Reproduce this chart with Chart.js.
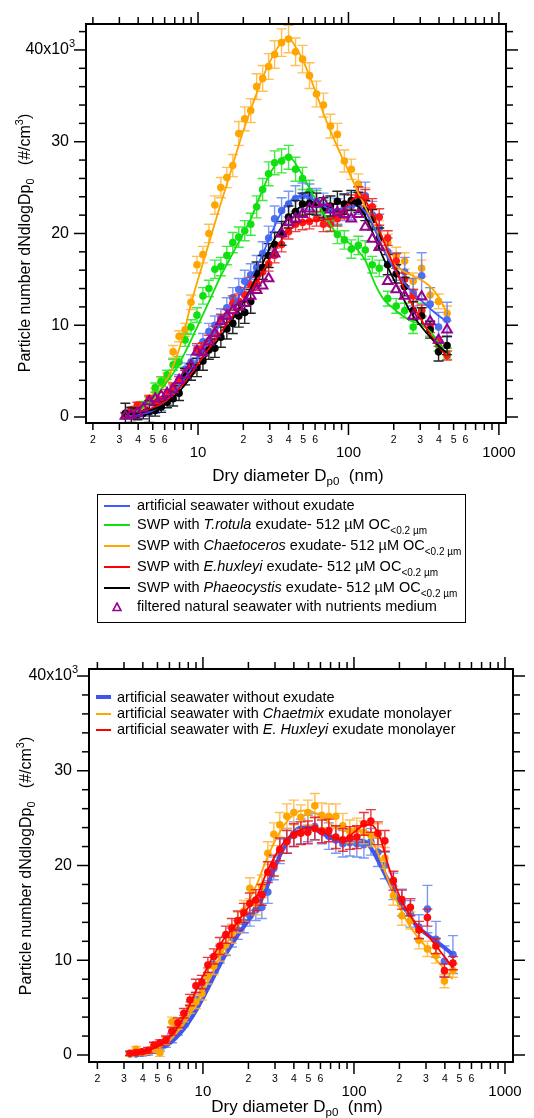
<!DOCTYPE html>
<html>
<head>
<meta charset="utf-8">
<title>Particle number size distributions</title>
<script src="https://cdn.jsdelivr.net/npm/chart.js"></script>
<style>
  html, body { margin: 0; padding: 0; background: #fff; }
  body { font-family: 'Liberation Sans', Arial, sans-serif; color: #000; }
  .page { position: relative; width: 534px; height: 1118px; overflow: hidden; }
  canvas { position: absolute; left: 0; }
  .title { position: absolute; font-size: 17px; line-height: 20px; white-space: nowrap; transform: translate(-50%, -50%); }
  .title.rot { font-size: 16px; transform: translate(-50%, -50%) rotate(-90deg); }
  sub, sup { font-size: 0.68em; line-height: 0; }
  sub { vertical-align: -0.35em; }
  sup { vertical-align: 0.6em; }
  .legend-box { position: absolute; left: 97px; top: 494px; width: 369px; height: 129px; border: 1.5px solid #000; box-sizing: border-box; }
  .lg { position: absolute; font-size: 14.5px; line-height: 17px; white-space: nowrap; }
  .lg sub { font-size: 10px; vertical-align: -5px; }
  .sw { position: absolute; height: 0; border-top-style: solid; }
</style>
</head>
<body>
<div class="page">
  <canvas id="topChart" width="534" height="500" style="top:0"></canvas>
  <canvas id="bottomChart" width="534" height="478" style="top:640px"></canvas>

  <div class="title rot" style="left:25px; top:243px">Particle number dNdlogDp<sub>0</sub>&nbsp;&nbsp; (#/cm<sup>3</sup>)</div>
  <div class="title" style="left:298px; top:476px">Dry diameter D<sub>p0</sub>&nbsp; (nm)</div>

  <div class="legend-box"></div>
  <div class="sw" style="left:104px; top:505px; width:26px; border-top-width:2px; border-color:#3c5cff"></div>
  <div class="lg" style="left:137px; top:497px">artificial seawater without exudate</div>
  <div class="sw" style="left:104px; top:524px; width:26px; border-top-width:2px; border-color:#10e010"></div>
  <div class="lg" style="left:137px; top:516px">SWP with <i>T.rotula</i> exudate- 512 µM OC<sub>&lt;0.2 µm</sub></div>
  <div class="sw" style="left:104px; top:545px; width:26px; border-top-width:2px; border-color:#ffa500"></div>
  <div class="lg" style="left:137px; top:537px">SWP with <i>Chaetoceros</i> exudate- 512 µM OC<sub>&lt;0.2 µm</sub></div>
  <div class="sw" style="left:104px; top:566px; width:26px; border-top-width:2px; border-color:#ff0000"></div>
  <div class="lg" style="left:137px; top:558px">SWP with <i>E.huxleyi</i> exudate- 512 µM OC<sub>&lt;0.2 µm</sub></div>
  <div class="sw" style="left:104px; top:587px; width:26px; border-top-width:2px; border-color:#000"></div>
  <div class="lg" style="left:137px; top:579px">SWP with <i>Phaeocystis</i> exudate- 512 µM OC<sub>&lt;0.2 µm</sub></div>
  <svg style="position:absolute; left:112px; top:602px" width="10" height="10"><polygon points="5,1 9,8.5 1,8.5" fill="none" stroke="#99008f" stroke-width="1.6"/></svg>
  <div class="lg" style="left:137px; top:598px">filtered natural seawater with nutrients medium</div>

  <div class="sw" style="left:96px; top:695px; width:15px; border-top-width:4px; border-color:#3f55ee"></div>
  <div class="lg" style="left:117px; top:689px">artificial seawater without exudate</div>
  <div class="sw" style="left:96px; top:713px; width:15px; border-top-width:2px; border-color:#ffa500"></div>
  <div class="lg" style="left:117px; top:705px">artificial seawater with <i>Chaetmix</i> exudate monolayer</div>
  <div class="sw" style="left:96px; top:729px; width:15px; border-top-width:2px; border-color:#ff0000"></div>
  <div class="lg" style="left:117px; top:721px">artificial seawater with <i>E. Huxleyi</i> exudate monolayer</div>

  <div class="title rot" style="left:26px; top:866px">Particle number dNdlogDp<sub>0</sub>&nbsp;&nbsp; (#/cm<sup>3</sup>)</div>
  <div class="title" style="left:297px; top:1107px">Dry diameter D<sub>p0</sub>&nbsp; (nm)</div>
</div>

<script>
// dry diameters of the measured channels (nm)
const diam = [3.29, 3.60, 3.95, 4.33, 4.74, 5.19, 5.69, 6.23, 6.83, 7.48, 8.20, 8.98, 9.84, 10.78, 11.81,
  12.94, 14.18, 15.54, 17.03, 18.66, 20.44, 22.40, 24.54, 26.89, 29.47, 32.29, 35.93, 39.98, 44.48, 49.50,
  55.07, 61.28, 68.19, 75.87, 84.42, 93.94, 104.5, 116.3, 129.4, 144.0, 160.2, 182.4, 207.7, 236.4, 269.2,
  306.5, 348.9, 397.2, 452.3];
// diameters where the fitted curves are given (nm)
const fitDiam = [3.3, 4, 5, 6, 7, 8, 9, 10, 12, 14, 16, 18, 20, 23, 26, 30, 35, 40, 45, 50, 60, 70, 80, 90,
  100, 115, 130, 150, 170, 200, 230, 260, 300, 350, 400, 450];

// axis ticks
const yTicks = [0, 10, 20, 30, 40];
const xDecades = [1, 10, 100, 1000];
const logSteps = [1, 2, 3, 4, 5, 6, 7, 8, 9];
const xMinorLabels = [2, 3, 4, 5, 6];

// ---- upper panel: seawater proxies with exudates (x10^3 #/cm3) ----
const orangeTop = [0.2, 0.4, 0.7, 1.2, 2.0, 2.7, 3.8, 4.3, 7.1, 8.8, 9.5, 12.5, 16.6, 17.7, 20.0, 23.1, 25.0, 26.1,
  27.4, 30.9, 32.5, 33.4, 36.0, 36.9, 38.2, 39.5, 40.8, 41.2, 39.8, 39.0, 37.2, 35.2, 34.0, 31.7, 30.8, 27.9,
  27.0, 25.4, 24.0, 22.0, 20.4, 19.0, 17.6, 17.0, 14.8, 16.2, 13.3, 12.6, 11.3];
const orangeTopErr = [0.3, 0.3, 0.3, 0.3, 0.4, 0.4, 0.5, 0.5, 0.7, 0.6, 0.7, 0.8, 0.9, 0.9, 1.0, 1.0, 1.1, 1.1,
  1.2, 1.3, 1.3, 1.3, 1.4, 1.4, 1.4, 1.5, 1.5, 1.5, 1.5, 1.5, 1.4, 1.4, 1.3, 1.3, 1.2, 1.2, 1.1, 1.1, 1.0, 1.0,
  1.0, 0.9, 0.9, 0.9, 0.9, 0.9, 0.8, 0.8, 0.8];
const greenTop = [0.15, 0.5, 0.9, 1.3, 1.8, 3.2, 3.9, 4.6, 5.7, 6.0, 8.4, 9.8, 11.1, 13.2, 14.0, 16.1, 16.4, 17.6,
  19.0, 19.6, 20.3, 21.0, 22.9, 24.8, 26.5, 27.7, 27.9, 28.3, 27.0, 26.0, 24.6, 23.5, 22.5, 21.4, 19.9, 19.3,
  18.3, 18.7, 18.2, 16.6, 16.2, 12.9, 12.1, 11.6, 9.8, 11.6, 9.5, 7.8, 6.9];
const greenTopErr = [0.3, 0.3, 0.3, 0.4, 0.4, 0.5, 0.5, 0.5, 0.6, 0.6, 0.7, 0.8, 0.8, 0.9, 0.9, 1.0, 1.0, 1.0,
  1.1, 1.1, 1.1, 1.2, 1.2, 1.2, 1.3, 1.3, 1.3, 1.3, 1.3, 1.2, 1.2, 1.2, 1.1, 1.1, 1.0, 1.0, 1.0, 1.0, 1.0, 0.9,
  0.9, 0.8, 0.8, 0.8, 0.7, 0.8, 0.7, 0.6, 0.6];
const blueTop = [0.1, 0.15, 0.2, 0.4, 0.5, 0.8, 1.2, 1.9, 2.9, 4.0, 5.2, 6.0, 7.0, 8.2, 9.3, 10.0, 10.8, 11.9,
  13.0, 13.9, 14.8, 15.5, 16.3, 17.8, 19.5, 21.6, 22.5, 23.2, 23.8, 24.1, 24.0, 23.5, 23.0, 22.6, 22.4, 22.8,
  23.0, 23.6, 24.1, 22.0, 20.6, 18.0, 16.4, 15.8, 13.6, 15.4, 12.3, 9.8, 10.6];
const blueTopErr = [0.3, 0.3, 0.3, 0.3, 0.4, 0.4, 0.5, 0.5, 0.6, 0.6, 0.7, 0.8, 0.8, 0.9, 0.9, 1.0, 1.0, 1.1,
  1.1, 1.2, 1.2, 1.2, 1.3, 1.3, 1.3, 1.4, 1.4, 1.4, 1.4, 1.4, 1.4, 1.4, 1.4, 1.4, 1.4, 1.4, 1.5, 1.5, 1.5, 1.5,
  1.5, 1.5, 1.5, 1.6, 1.5, 2.5, 1.8, 1.6, 1.9];
const redTop = [0.2, 0.8, 1.3, 0.9, 2.0, 1.6, 1.9, 2.6, 3.3, 4.0, 4.6, 5.3, 7.4, 7.5, 8.3, 9.2, 10.5, 11.0, 12.4,
  12.6, 13.3, 14.4, 14.6, 15.8, 16.7, 17.6, 18.8, 20.2, 21.0, 21.2, 21.3, 21.6, 21.0, 21.0, 21.6, 22.4, 23.4,
  24.2, 23.9, 22.9, 21.8, 19.5, 17.0, 15.0, 13.2, 11.6, 9.8, 8.2, 6.7];
const redTopErr = [0.3, 0.3, 0.3, 0.3, 0.3, 0.3, 0.3, 0.4, 0.4, 0.4, 0.5, 0.5, 0.6, 0.6, 0.6, 0.7, 0.7, 0.7, 0.8,
  0.8, 0.8, 0.8, 0.8, 0.8, 0.8, 0.8, 0.8, 0.8, 0.8, 0.8, 0.8, 0.8, 0.8, 0.8, 0.8, 0.8, 0.8, 0.9, 0.9, 0.9, 0.9,
  0.8, 0.8, 0.7, 0.7, 0.6, 0.6, 0.5, 0.5];
const blackTop = [0.4, 0.2, 0.3, 0.4, 0.6, 0.7, 1.1, 1.6, 2.0, 2.6, 4.4, 4.9, 5.4, 6.1, 7.3, 7.5, 8.7, 9.6, 10.2,
  11.0, 11.4, 12.6, 15.6, 16.3, 17.6, 18.8, 20.0, 21.8, 22.4, 23.2, 23.3, 23.2, 22.8, 23.0, 23.5, 23.2, 23.6,
  23.4, 22.5, 21.5, 19.5, 16.6, 15.6, 14.2, 11.6, 11.0, 9.5, 7.1, 7.8];
const blackTopErr = [1.1, 0.8, 0.6, 0.6, 1.2, 0.6, 0.6, 0.6, 0.8, 0.8, 0.9, 0.9, 1.0, 1.0, 1.0, 1.0, 1.1, 1.1,
  1.1, 1.2, 1.2, 1.3, 1.3, 1.3, 1.3, 1.3, 1.3, 1.2, 1.2, 1.2, 1.2, 1.2, 1.1, 1.1, 1.1, 1.1, 1.1, 1.1, 1.1, 1.1,
  1.1, 1.1, 1.0, 1.0, 1.0, 0.9, 0.9, 1.0, 1.0];
const purpleTop = [0.1, 0.2, 0.4, 0.9, 1.7, 2.0, 2.3, 2.6, 3.0, 4.0, 4.6, 5.6, 7.1, 7.0, 8.2, 9.1, 10.4, 11.0,
  11.6, 12.0, 12.4, 13.2, 13.8, 14.3, 15.1, 17.8, 20.0, 21.2, 21.6, 22.1, 22.7, 23.2, 23.4, 22.6, 22.3, 22.1,
  21.6, 22.1, 20.7, 19.4, 18.5, 14.8, 13.9, 13.2, 11.0, 13.1, 10.4, 8.4, 9.5];

const orangeTopFit = [0.2, 0.6, 1.9, 3.6, 6.0, 9.0, 12.4, 15.0, 19.3, 23.0, 26.0, 28.8, 31.2, 34.0, 36.4, 38.7,
  40.6, 41.3, 40.2, 38.8, 35.6, 32.6, 30.3, 28.4, 26.8, 24.6, 22.8, 20.5, 18.5, 16.7, 15.9, 15.5, 15.0, 14.2,
  13.0, 11.4];
const greenTopFit = [0.1, 0.7, 2.0, 3.5, 5.0, 6.7, 8.4, 10.0, 12.8, 15.2, 17.0, 18.6, 20.0, 22.0, 24.2, 26.5,
  28.0, 28.4, 27.5, 26.2, 23.8, 21.9, 20.4, 19.6, 19.0, 18.2, 17.0, 14.5, 12.9, 11.8, 11.0, 10.5, 10.1, 9.3,
  8.0, 6.8];
const blueTopFit = [0.05, 0.25, 0.7, 1.6, 2.8, 4.0, 5.2, 6.4, 8.4, 10.0, 11.4, 12.7, 13.9, 15.5, 17.2, 19.6,
  22.0, 23.4, 24.0, 24.1, 23.6, 22.9, 22.6, 22.7, 22.9, 23.0, 22.3, 20.4, 18.3, 16.2, 14.8, 13.8, 12.8, 11.8,
  11.0, 10.4];
const redTopFit = [0.2, 0.5, 1.0, 1.7, 2.6, 3.6, 4.7, 5.8, 7.6, 9.1, 10.4, 11.6, 12.6, 14.0, 15.4, 17.2, 19.0,
  20.3, 21.0, 21.3, 21.4, 21.5, 21.7, 22.4, 23.3, 24.0, 23.5, 21.5, 19.3, 16.5, 14.3, 12.5, 10.8, 9.0, 7.7, 6.6];
const blackTopFit = [0.3, 0.4, 0.8, 1.4, 2.3, 3.3, 4.4, 5.4, 7.2, 8.7, 10.0, 11.3, 12.5, 14.4, 16.2, 18.4, 20.4,
  21.8, 22.6, 23.0, 23.1, 23.1, 23.2, 23.4, 23.4, 23.0, 21.8, 19.5, 17.4, 15.0, 13.0, 11.4, 10.0, 8.7, 7.7, 7.0];

// ---- lower panel: artificial seawater with exudate monolayers (x10^3 #/cm3) ----
const blueBot = [0.1, 0.1, 0.2, 0.3, 0.5, 0.8, 1.2, 1.8, 2.6, 3.6, 4.7, 5.9, 7.2, 8.4, 9.6, 10.6, 11.5, 12.4,
  13.2, 14.0, 14.7, 15.3, 15.6, 17.2, 19.7, 21.5, 22.6, 23.3, 23.6, 23.9, 24.1, 23.7, 23.1, 22.7, 22.3, 22.4,
  22.3, 22.2, 22.5, 21.4, 20.0, 17.8, 16.1, 14.9, 13.5, 15.4, 12.2, 9.9, 10.6];
const blueBotErr = [0.2, 0.2, 0.3, 0.3, 0.3, 0.4, 0.4, 0.5, 0.5, 0.6, 0.6, 0.7, 0.8, 0.8, 0.9, 0.9, 1.0, 1.0,
  1.0, 1.1, 1.1, 1.1, 1.2, 1.2, 1.2, 1.3, 1.3, 1.3, 1.3, 1.4, 1.4, 1.4, 1.4, 1.4, 1.4, 1.4, 1.4, 1.4, 1.4, 1.5,
  1.4, 1.4, 1.4, 1.4, 1.3, 2.5, 1.9, 1.6, 2.0];
const orangeBot = [0.15, 0.6, 0.3, 0.4, 0.6, 0.25, 1.5, 3.5, 3.2, 4.0, 5.0, 5.6, 6.5, 8.3, 9.4, 10.8, 11.6, 12.8,
  14.0, 15.2, 17.6, 16.0, 17.8, 21.3, 23.3, 24.3, 25.2, 25.6, 25.1, 25.6, 26.3, 25.3, 25.2, 25.2, 24.2, 23.6,
  23.8, 23.5, 23.2, 23.2, 20.8, 16.8, 14.7, 14.2, 12.1, 11.2, 10.5, 7.8, 8.9];
const orangeBotErr = [0.3, 0.3, 0.3, 0.3, 0.3, 0.4, 0.4, 0.5, 0.5, 0.5, 0.6, 0.7, 0.7, 0.8, 0.9, 0.9, 1.0, 1.0,
  1.1, 1.1, 1.1, 1.2, 1.2, 1.2, 1.2, 1.3, 1.3, 1.3, 1.3, 1.3, 1.3, 1.3, 1.3, 1.3, 1.3, 1.2, 1.2, 1.2, 1.2, 1.2,
  1.1, 1.0, 1.0, 0.9, 0.9, 0.8, 0.8, 0.7, 0.7];
const redBot = [0.18, 0.25, 0.35, 0.5, 1.05, 1.3, 1.6, 2.5, 3.4, 4.4, 5.8, 7.3, 7.7, 9.5, 10.4, 11.5, 12.7, 13.4,
  14.2, 15.0, 16.0, 16.35, 16.9, 19.3, 20.0, 21.7, 22.5, 23.2, 23.4, 23.5, 23.9, 23.6, 23.7, 23.0, 22.7, 22.9,
  23.0, 24.4, 24.7, 23.4, 22.6, 18.4, 16.4, 15.6, 13.2, 14.5, 11.5, 8.9, 9.7];
const redBotErr = [0.2, 0.2, 0.2, 0.3, 0.3, 0.3, 0.4, 0.4, 0.5, 0.5, 0.6, 0.7, 0.7, 0.8, 0.8, 0.9, 0.9, 1.0, 1.0,
  1.0, 1.1, 1.1, 1.1, 1.1, 1.1, 1.2, 1.2, 1.2, 1.2, 1.2, 1.2, 1.2, 1.2, 1.2, 1.2, 1.2, 1.2, 1.2, 1.2, 1.2, 1.1,
  1.0, 1.0, 0.9, 0.9, 0.9, 0.8, 0.7, 0.7];

const blueBotFit = [0.05, 0.2, 0.5, 1.2, 2.2, 3.4, 4.7, 6.0, 8.5, 10.5, 12.0, 13.2, 14.2, 15.6, 17.4, 19.9, 22.1,
  23.5, 24.0, 24.0, 23.5, 22.9, 22.6, 22.5, 22.6, 22.6, 21.8, 20.0, 18.3, 16.2, 14.9, 13.6, 12.8, 12.0, 11.3, 10.6];
const orangeBotFit = [0.1, 0.3, 0.7, 1.5, 2.7, 4.0, 5.4, 6.8, 9.3, 11.4, 13.2, 14.8, 16.2, 18.2, 20.4, 22.6,
  24.4, 25.4, 25.8, 25.8, 25.2, 24.4, 23.8, 23.6, 23.7, 23.6, 22.8, 20.6, 18.3, 15.6, 13.8, 12.6, 11.4, 10.1,
  9.0, 8.0];
const redBotFit = [0.15, 0.35, 0.9, 1.9, 3.2, 5.0, 6.8, 8.3, 10.8, 12.4, 13.5, 14.6, 15.6, 16.9, 19.0, 21.0,
  22.6, 23.4, 23.8, 24.0, 23.7, 23.1, 22.8, 22.9, 23.5, 24.2, 24.3, 22.8, 19.8, 16.8, 15.0, 13.7, 12.8, 11.5,
  10.3, 9.2];

const FONT = "'Liberation Sans', Arial, sans-serif";

function pairs(xs, ys) {
  return xs.map((x, i) => ({ x: x, y: ys[i] }));
}

function pointSet(label, ys, errs, color, errColor) {
  return {
    label: label, data: pairs(diam, ys), errors: errs, errorColor: errColor,
    showLine: false, pointRadius: 3.8, pointBorderWidth: 0,
    pointBackgroundColor: color, pointBorderColor: color
  };
}

function fitSet(label, ys, color, width) {
  return {
    label: label, data: pairs(fitDiam, ys), showLine: true, pointRadius: 0,
    borderColor: color, borderWidth: width, cubicInterpolationMode: 'monotone', fill: false
  };
}

// vertical error bars with caps, drawn just under each point set
const errorBars = {
  id: 'errorBars',
  beforeDatasetDraw(chart, args) {
    const ds = chart.data.datasets[args.index];
    if (!ds.errors) return;
    const ctx = chart.ctx, a = chart.chartArea, ys = chart.scales.y;
    ctx.save();
    ctx.beginPath();
    ctx.rect(a.left, a.top, a.right - a.left, a.bottom - a.top);
    ctx.clip();
    ctx.strokeStyle = ds.errorColor;
    ctx.lineWidth = 1.4;
    args.meta.data.forEach((pt, i) => {
      const v = ds.data[i].y, e = ds.errors[i];
      const y1 = ys.getPixelForValue(v + e), y2 = ys.getPixelForValue(v - e);
      ctx.beginPath();
      ctx.moveTo(pt.x, y1); ctx.lineTo(pt.x, y2);
      ctx.moveTo(pt.x - 5, y1); ctx.lineTo(pt.x + 5, y1);
      ctx.moveTo(pt.x - 5, y2); ctx.lineTo(pt.x + 5, y2);
      ctx.stroke();
    });
    ctx.restore();
  }
};

// Igor-like box axes: ticks outside on all four sides
const igorAxes = {
  id: 'igorAxes',
  afterDraw(chart) {
    const ctx = chart.ctx, a = chart.chartArea, xs = chart.scales.x, ys = chart.scales.y;
    const seg = (x1, y1, x2, y2) => { ctx.beginPath(); ctx.moveTo(x1, y1); ctx.lineTo(x2, y2); ctx.stroke(); };
    ctx.save();
    ctx.strokeStyle = '#000';
    ctx.fillStyle = '#000';
    ctx.lineWidth = 1.5;
    ctx.textAlign = 'center';
    ctx.textBaseline = 'middle';
    xDecades.forEach(dec => logSteps.forEach(m => {
      const v = dec * m;
      if (v < xs.min || v > xs.max) return;
      const px = xs.getPixelForValue(v);
      const len = m === 1 ? 12 : 7;
      seg(px, a.bottom, px, a.bottom + len);
      seg(px, a.top, px, a.top - len);
      if (m === 1) {
        ctx.font = '15px ' + FONT;
        ctx.fillText(String(v), px, a.bottom + 30);
      } else if (xMinorLabels.includes(m)) {
        ctx.font = '10.5px ' + FONT;
        ctx.fillText(String(m), px, a.bottom + 17);
      }
    }));
    for (let v = 0; v <= ys.max; v += 2) {
      const py = ys.getPixelForValue(v);
      const len = v % 10 === 0 ? 12 : 7;
      seg(a.left, py, a.left - len, py);
      seg(a.right, py, a.right + len, py);
    }
    yTicks.forEach(v => {
      const py = ys.getPixelForValue(v);
      ctx.font = '16px ' + FONT;
      ctx.textAlign = 'right';
      if (v === 40) {
        ctx.fillText('40x10', a.left - 17, py);
        ctx.font = '11px ' + FONT;
        ctx.textAlign = 'left';
        ctx.fillText('3', a.left - 17, py - 6);
      } else {
        ctx.fillText(String(v), a.left - 17, py);
      }
    });
    ctx.lineWidth = 2;
    ctx.strokeRect(a.left, a.top, a.right - a.left, a.bottom - a.top);
    ctx.restore();
  }
};

function makeChart(id, datasets, xMin, xMax, yMin, yMax, padding) {
  return new Chart(document.getElementById(id), {
    type: 'scatter',
    data: { datasets: datasets },
    options: {
      responsive: false,
      animation: false,
      devicePixelRatio: 1,
      events: [],
      layout: { padding: padding },
      scales: {
        x: { type: 'logarithmic', min: xMin, max: xMax, display: false },
        y: { type: 'linear', min: yMin, max: yMax, display: false }
      },
      plugins: { legend: { display: false }, tooltip: { enabled: false } }
    },
    plugins: [errorBars, igorAxes]
  });
}

// first dataset is drawn on top
makeChart('topChart', [
  {
    label: 'filtered natural seawater with nutrients medium', data: pairs(diam, purpleTop), showLine: false,
    pointStyle: 'triangle', pointRadius: 5.5, pointBorderWidth: 2,
    pointBorderColor: '#99008f', pointBackgroundColor: 'rgba(0,0,0,0)'
  },
  fitSet('Phaeocystis fit', blackTopFit, '#000000', 1.8),
  fitSet('E.huxleyi fit', redTopFit, '#ff0000', 1.8),
  fitSet('seawater fit', blueTopFit, '#3c5cff', 1.8),
  fitSet('T.rotula fit', greenTopFit, '#10e010', 1.8),
  fitSet('Chaetoceros fit', orangeTopFit, '#ffa500', 1.8),
  pointSet('SWP with Phaeocystis exudate', blackTop, blackTopErr, '#000000', '#222222'),
  pointSet('SWP with E.huxleyi exudate', redTop, redTopErr, '#ff1a1a', 'rgba(235,30,30,0.85)'),
  pointSet('artificial seawater without exudate', blueTop, blueTopErr, '#4a70f0', 'rgba(90,125,245,0.8)'),
  pointSet('SWP with T.rotula exudate', greenTop, greenTopErr, '#10e010', 'rgba(30,230,30,0.85)'),
  pointSet('SWP with Chaetoceros exudate', orangeTop, orangeTopErr, '#ffa500', 'rgba(255,175,40,0.8)')
], 1.8, 1115, -0.654, 42.83, { left: 86, top: 24, right: 28, bottom: 77 });

makeChart('bottomChart', [
  fitSet('E. Huxleyi monolayer fit', redBotFit, '#ff0000', 1.8),
  pointSet('artificial seawater with E. Huxleyi exudate monolayer', redBot, redBotErr, '#ff0a0a', 'rgba(230,20,30,0.85)'),
  fitSet('Chaetmix monolayer fit', orangeBotFit, '#ffa500', 1.8),
  pointSet('artificial seawater with Chaetmix exudate monolayer', orangeBot, orangeBotErr, '#ffa500', 'rgba(255,175,40,0.8)'),
  fitSet('seawater fit', blueBotFit, '#3f55ee', 4),
  pointSet('artificial seawater without exudate', blueBot, blueBotErr, '#4a70f0', 'rgba(90,125,245,0.8)')
], 1.76, 1130, -0.739, 40.74, { left: 89, top: 29, right: 21, bottom: 56 });
</script>
</body>
</html>
